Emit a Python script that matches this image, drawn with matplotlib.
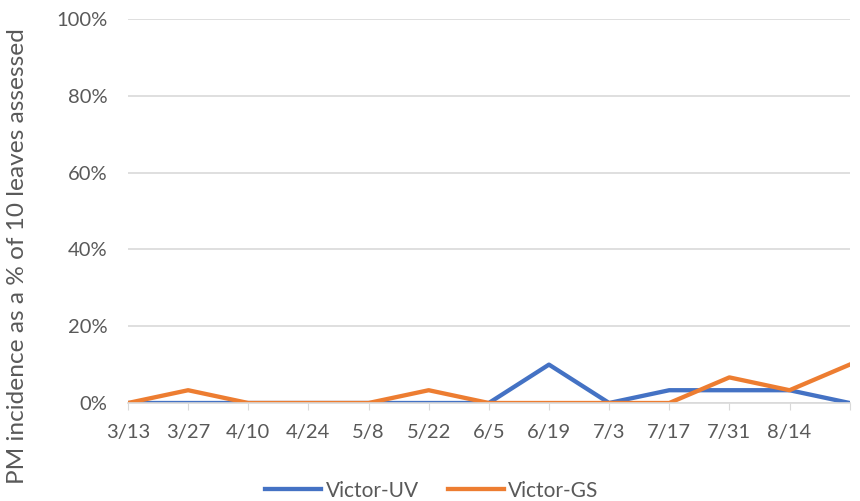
import numpy as np
import matplotlib.pyplot as plt

dates = ['3/13', '3/27', '4/10', '4/24', '5/8', '5/22', '6/5', '6/19',
         '7/3', '7/17', '7/31', '8/14', '']
victor_uv = [0, 0, 0, 0, 0, 0, 0, 0.10, 0, 0.0333, 0.0333, 0.0333, 0]
victor_gs = [0, 0.0333, 0, 0, 0, 0.0333, 0, 0, 0, 0, 0.0667, 0.0333, 0.10]

plt.rcParams['font.family'] = ['Lato', 'DejaVu Sans']
grey = '#595959'

fig = plt.figure(figsize=(8.6, 5.01), dpi=100)
ax = fig.add_axes([0.1488, 0.1956, 0.8392, 0.7664])

x = np.arange(len(dates))
ax.plot(x, victor_uv, color='#4472C4', lw=3.1, label='Victor-UV', solid_joinstyle='round')
ax.plot(x, victor_gs, color='#ED7D31', lw=3.1, label='Victor-GS', solid_joinstyle='round')

ax.set_xlim(0, len(dates) - 1)
ax.set_ylim(0, 1.0)
ax.set_yticks(np.arange(0, 1.01, 0.2))
ax.set_yticklabels(['{:.0f}%'.format(v * 100) for v in np.arange(0, 1.01, 0.2)])
ax.set_xticks(x)
ax.set_xticklabels(dates)

ax.grid(axis='y', color='#D9D9D9', lw=1.2)
ax.set_axisbelow(True)
for s in ['top', 'right', 'left']:
    ax.spines[s].set_visible(False)
ax.spines['bottom'].set_color('#D9D9D9')
ax.spines['bottom'].set_linewidth(1.2)
ax.tick_params(axis='y', length=0, labelsize=14.5, labelcolor=grey, pad=15)
ax.tick_params(axis='x', length=5, color='#D9D9D9', labelsize=14.5, labelcolor=grey, pad=10)

ax.set_ylabel('PM incidence as a % of 10 leaves assessed', fontsize=17.6, color=grey)
ax.yaxis.set_label_coords(-0.1385, 0.383)

ax.legend(loc='center', bbox_to_anchor=(0.421, -0.228), ncol=2, frameon=False,
          fontsize=15, labelcolor=grey, handlelength=2.7, columnspacing=1.4,
          handletextpad=0.2)

fig.savefig('out.png', dpi=100)
